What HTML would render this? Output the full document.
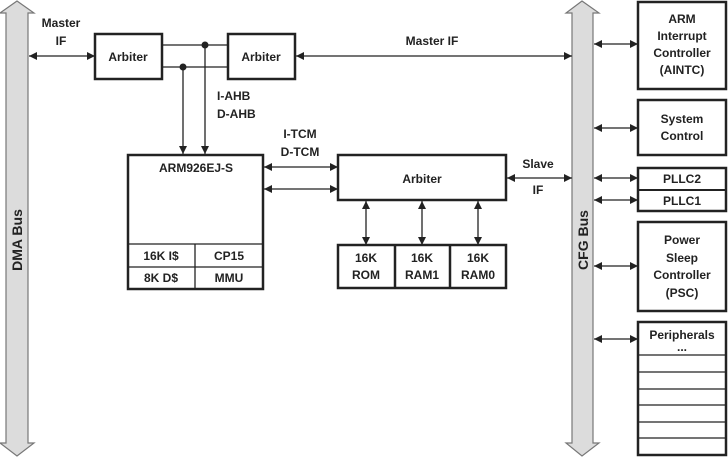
<!DOCTYPE html>
<html><head><meta charset="utf-8"><style>
html,body{margin:0;padding:0;background:#fff;}
svg text{font-family:"Liberation Sans",Arial,sans-serif;font-weight:bold;font-size:12px;fill:#222;}
</style></head><body>
<svg width="728" height="457" viewBox="0 0 728 457" xmlns="http://www.w3.org/2000/svg">
<defs>
<marker id="a" viewBox="0 0 10 10" refX="10" refY="5" markerWidth="8" markerHeight="8" orient="auto-start-reverse" markerUnits="userSpaceOnUse"><path d="M0,0 L10,5 L0,10 z" fill="#222"/></marker>
</defs>
<polygon points="17,1 34,13 28,13 28,443 34,443 17,456 0,443 6,443 6,13 0,13" fill="#dcdcdc" stroke="#777" stroke-width="1.2"/>
<text transform="translate(22,240) rotate(-90)" text-anchor="middle" style="font-size:14px">DMA Bus</text>
<polygon points="582,1 599,13 593,13 593,443 599,443 582,456 566,443 572,443 572,13 566,13" fill="#dcdcdc" stroke="#777" stroke-width="1.2"/>
<text transform="translate(588,240) rotate(-90)" text-anchor="middle" style="font-size:14px">CFG Bus</text>
<g stroke="#222" stroke-width="1.3" fill="none">
<rect x="95" y="34" width="67" height="45" stroke-width="2.5"/>
<rect x="228" y="34" width="67" height="45" stroke-width="2.5"/>
<line x1="162" y1="45" x2="228" y2="45"/>
<line x1="162" y1="67" x2="228" y2="67"/>
<line x1="205" y1="45" x2="205" y2="154" marker-end="url(#a)"/>
<line x1="183" y1="67" x2="183" y2="154" marker-end="url(#a)"/>
<line x1="29" y1="56" x2="95" y2="56" marker-start="url(#a)" marker-end="url(#a)"/>
<line x1="296" y1="56" x2="572" y2="56" marker-start="url(#a)" marker-end="url(#a)"/>
<rect x="128" y="155" width="135" height="134" stroke-width="2.5"/>
<line x1="128" y1="244" x2="263" y2="244"/>
<line x1="128" y1="267" x2="263" y2="267"/>
<line x1="195" y1="244" x2="195" y2="289"/>
<line x1="264" y1="167" x2="338" y2="167" marker-start="url(#a)" marker-end="url(#a)"/>
<line x1="264" y1="189" x2="338" y2="189" marker-start="url(#a)" marker-end="url(#a)"/>
<rect x="338" y="155" width="168" height="45" stroke-width="2.5"/>
<line x1="507" y1="178" x2="572" y2="178" marker-start="url(#a)" marker-end="url(#a)"/>
<rect x="338" y="245" width="168" height="43" stroke-width="2.5"/>
<line x1="395" y1="245" x2="395" y2="288" stroke-width="2.5"/>
<line x1="450" y1="245" x2="450" y2="288" stroke-width="2.5"/>
<line x1="366" y1="201" x2="366" y2="245" marker-start="url(#a)" marker-end="url(#a)"/>
<line x1="422" y1="201" x2="422" y2="245" marker-start="url(#a)" marker-end="url(#a)"/>
<line x1="478" y1="201" x2="478" y2="245" marker-start="url(#a)" marker-end="url(#a)"/>
<rect x="638" y="2" width="88" height="87" stroke-width="2.5"/>
<rect x="638" y="100" width="88" height="55" stroke-width="2.5"/>
<rect x="638" y="168" width="88" height="43" stroke-width="2.5"/>
<line x1="638" y1="190" x2="726" y2="190" stroke-width="2"/>
<rect x="638" y="222" width="88" height="89" stroke-width="2.5"/>
<rect x="638" y="322" width="88" height="133" stroke-width="2.5"/>
<line x1="638" y1="355" x2="726" y2="355"/>
<line x1="638" y1="372" x2="726" y2="372"/>
<line x1="638" y1="389" x2="726" y2="389"/>
<line x1="638" y1="405" x2="726" y2="405"/>
<line x1="638" y1="422" x2="726" y2="422"/>
<line x1="638" y1="438" x2="726" y2="438"/>
<line x1="594" y1="44" x2="638" y2="44" marker-start="url(#a)" marker-end="url(#a)"/>
<line x1="594" y1="128" x2="638" y2="128" marker-start="url(#a)" marker-end="url(#a)"/>
<line x1="594" y1="178" x2="638" y2="178" marker-start="url(#a)" marker-end="url(#a)"/>
<line x1="594" y1="200" x2="638" y2="200" marker-start="url(#a)" marker-end="url(#a)"/>
<line x1="594" y1="266" x2="638" y2="266" marker-start="url(#a)" marker-end="url(#a)"/>
<line x1="594" y1="339" x2="638" y2="339" marker-start="url(#a)" marker-end="url(#a)"/>
</g>
<circle cx="205" cy="45" r="3.5" fill="#222"/>
<circle cx="183" cy="67" r="3.5" fill="#222"/>
<g text-anchor="middle">
<text x="61" y="27">Master</text><text x="61" y="45">IF</text>
<text x="128" y="61">Arbiter</text>
<text x="261" y="61">Arbiter</text>
<text x="432" y="45">Master IF</text>
<text x="196" y="172">ARM926EJ-S</text>
<text x="161" y="260">16K I$</text><text x="229" y="260">CP15</text>
<text x="161" y="282">8K D$</text><text x="229" y="282">MMU</text>
<text x="300" y="138">I-TCM</text><text x="300" y="156">D-TCM</text>
<text x="422" y="183">Arbiter</text>
<text x="538" y="168">Slave</text><text x="538" y="194">IF</text>
<text x="366" y="262">16K</text><text x="366" y="279">ROM</text>
<text x="422" y="262">16K</text><text x="422" y="279">RAM1</text>
<text x="478" y="262">16K</text><text x="478" y="279">RAM0</text>
<text x="682" y="23">ARM</text><text x="682" y="40">Interrupt</text><text x="682" y="57">Controller</text><text x="682" y="74">(AINTC)</text>
<text x="682" y="123">System</text><text x="682" y="140">Control</text>
<text x="682" y="183">PLLC2</text><text x="682" y="205">PLLC1</text>
<text x="682" y="244">Power</text><text x="682" y="262">Sleep</text><text x="682" y="279">Controller</text><text x="682" y="297">(PSC)</text>
<text x="682" y="339">Peripherals</text><text x="682" y="351">...</text>
</g>
<text x="217" y="100">I-AHB</text><text x="217" y="118">D-AHB</text>
</svg>
</body></html>
